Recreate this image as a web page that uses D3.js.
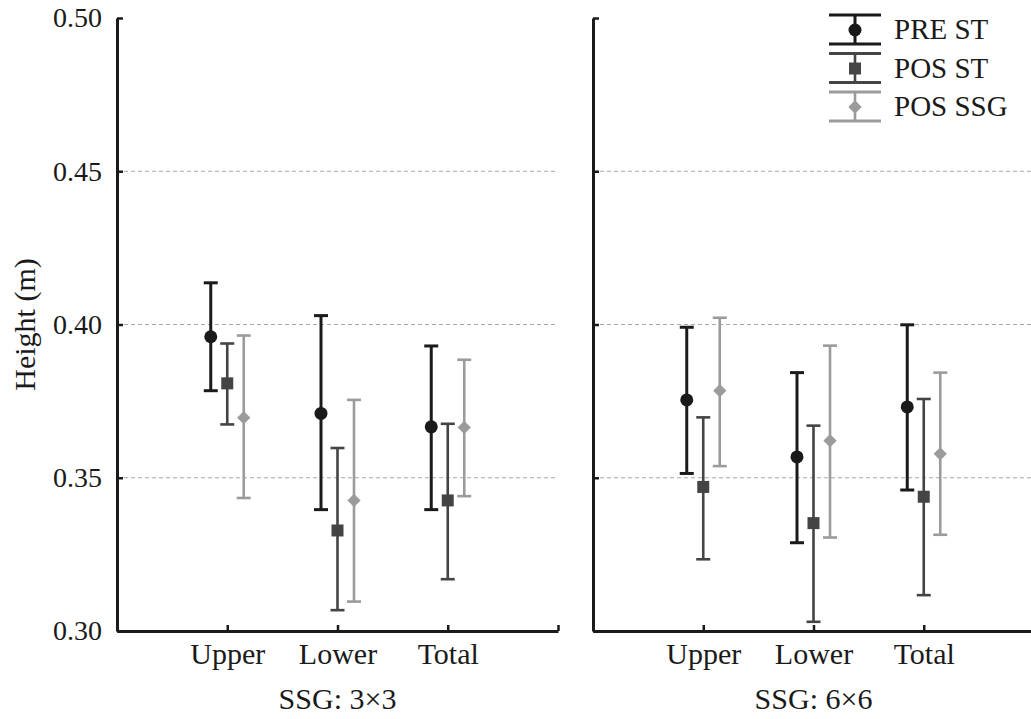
<!DOCTYPE html>
<html>
<head>
<meta charset="utf-8">
<script src="https://cdn.jsdelivr.net/npm/d3@7"></script>
<style>
  body { margin: 0; background: #fff; }
  text { font-family: "Liberation Serif", "Times New Roman", serif; fill: #1a1a1a; }
</style>
</head>
<body>
<div id="chart"></div>
<script>
// data
const panels = ["SSG: 3×3", "SSG: 6×6"];
const categories = ["Upper", "Lower", "Total"];
const series = ["PRE ST", "POS ST", "POS SSG"];
const seriesColors = ["#1a1a1a", "#444444", "#9b9b9b"];
const yTicks = [0.30, 0.35, 0.40, 0.45, 0.50];

// [panel][series][category]
const means = [
    [[0.396, 0.371, 0.3666], [0.3808, 0.3328, 0.3426], [0.3696, 0.3426, 0.3664]],
    [[0.3754, 0.3568, 0.3731], [0.347, 0.3352, 0.3438], [0.3784, 0.3621, 0.3578]]
];
const uppers = [
    [[0.4136, 0.4029, 0.393], [0.3938, 0.3597, 0.3676], [0.3964, 0.3754, 0.3885]],
    [[0.3991, 0.3843, 0.3999], [0.3697, 0.367, 0.3757], [0.4022, 0.3931, 0.3843]]
];
const lowers = [
    [[0.3784, 0.3396, 0.3396], [0.3674, 0.3068, 0.3169], [0.3434, 0.3096, 0.344]],
    [[0.3514, 0.3288, 0.346], [0.3234, 0.303, 0.3117], [0.3538, 0.3305, 0.3314]]
];

async function drawChart() {

    const dimensions = {
        width: 1031,
        height: 719,
        panelWidth: 441,
        panelGap: 35,
        margin: { top: 18, left: 117, bottom: 88 }
    };
    dimensions.boundedHeight = dimensions.height - dimensions.margin.top - dimensions.margin.bottom;

    const chart = d3.select("#chart")
        .append("svg")
        .attr("width", dimensions.width)
        .attr("height", dimensions.height);

    // scales
    const yScale = d3.scaleLinear()
        .domain([0.30, 0.50])
        .range([dimensions.boundedHeight, 0]);

    const xScale = d3.scaleLinear()
        .domain([0, categories.length + 1])
        .range([0, dimensions.panelWidth]);

    const offsetScale = d3.scalePoint()
        .domain(series)
        .range([-16.5, 16.5]);

    const colorScale = d3.scaleOrdinal()
        .domain(series)
        .range(seriesColors);

    // diamond = square turned 45 degrees
    const symbols = [d3.symbolCircle, d3.symbolSquare, d3.symbolSquare];
    const symbolSizes = [133, 144, 88];
    const symbolRotate = [0, 0, 45];
    const lineWidths = [3, 2.6, 2.6];
    const capHalf = 7;

    panels.forEach((panelName, p) => {
        const left = dimensions.margin.left + p * (dimensions.panelWidth + dimensions.panelGap);
        const bounds = chart.append("g")
            .attr("transform", `translate(${left}, ${dimensions.margin.top})`);

        // grid
        bounds.append("g")
            .selectAll("line")
            .data(yTicks.filter(t => t > 0.30 && t < 0.50))
            .join("line")
            .attr("x1", 0)
            .attr("x2", dimensions.panelWidth)
            .attr("y1", d => yScale(d))
            .attr("y2", d => yScale(d))
            .attr("stroke", "#a8a8a8")
            .attr("stroke-width", 1)
            .attr("stroke-dasharray", "4,3");

        // axes
        const yAxis = d3.axisLeft(yScale)
            .tickValues(yTicks)
            .tickSizeInner(-6)
            .tickSizeOuter(0)
            .tickPadding(15)
            .tickFormat(p === 0 ? d3.format(".2f") : "");

        const yAxisGroup = bounds.append("g").call(yAxis);

        const xAxis = d3.axisBottom(xScale)
            .tickValues(d3.range(1, categories.length + 2))
            .tickSizeInner(-6)
            .tickSizeOuter(0)
            .tickPadding(12)
            .tickFormat(d => categories[d - 1] || "");

        const xAxisGroup = bounds.append("g")
            .attr("transform", `translate(0, ${dimensions.boundedHeight})`)
            .call(xAxis);

        [yAxisGroup, xAxisGroup].forEach(g => {
            g.select(".domain").attr("stroke", "#1a1a1a").attr("stroke-width", 3);
            g.selectAll(".tick line").attr("stroke", "#1a1a1a").attr("stroke-width", 2.5);
            g.selectAll(".tick text")
                .attr("font-family", "Liberation Serif")
                .attr("fill", "#1a1a1a");
        });
        yAxisGroup.selectAll(".tick text").attr("font-size", 28);
        xAxisGroup.selectAll(".tick text").attr("font-size", 30).attr("dy", "0.71em");

        // panel title
        bounds.append("text")
            .attr("x", xScale(2))
            .attr("y", dimensions.boundedHeight + 78)
            .attr("text-anchor", "middle")
            .style("font-size", "30px")
            .text(panelName);

        // error bars
        series.forEach((s, si) => {
            const g = bounds.append("g");
            const color = colorScale(s);
            const rows = categories.map((c, ci) => ({
                cx: xScale(ci + 1) + offsetScale(s),
                mean: means[p][si][ci],
                hi: uppers[p][si][ci],
                lo: lowers[p][si][ci]
            }));

            g.selectAll("line.bar")
                .data(rows)
                .join("line")
                .attr("class", "bar")
                .attr("x1", d => d.cx).attr("x2", d => d.cx)
                .attr("y1", d => yScale(d.hi)).attr("y2", d => yScale(d.lo))
                .attr("stroke", color)
                .attr("stroke-width", lineWidths[si]);

            g.selectAll("line.cap-hi")
                .data(rows)
                .join("line")
                .attr("class", "cap-hi")
                .attr("x1", d => d.cx - capHalf).attr("x2", d => d.cx + capHalf)
                .attr("y1", d => yScale(d.hi)).attr("y2", d => yScale(d.hi))
                .attr("stroke", color)
                .attr("stroke-width", lineWidths[si]);

            g.selectAll("line.cap-lo")
                .data(rows)
                .join("line")
                .attr("class", "cap-lo")
                .attr("x1", d => d.cx - capHalf).attr("x2", d => d.cx + capHalf)
                .attr("y1", d => yScale(d.lo)).attr("y2", d => yScale(d.lo))
                .attr("stroke", color)
                .attr("stroke-width", lineWidths[si]);

            g.selectAll("path.marker")
                .data(rows)
                .join("path")
                .attr("class", "marker")
                .attr("d", d3.symbol().type(symbols[si]).size(symbolSizes[si]))
                .attr("transform", d => `translate(${d.cx}, ${yScale(d.mean)}) rotate(${symbolRotate[si]})`)
                .attr("fill", color);
        });
    });

    // y label
    chart.append("text")
        .attr("transform", `translate(35, ${dimensions.margin.top + yScale(0.40)}) rotate(-90)`)
        .attr("text-anchor", "middle")
        .style("font-size", "30px")
        .text("Height (m)");

    // legend
    const legend = chart.append("g")
        .attr("transform", "translate(855, 15)");

    const legendRows = legend.selectAll("g")
        .data(series)
        .join("g")
        .attr("transform", (d, i) => `translate(0, ${i * 38.5})`);

    legendRows.each(function(s, si) {
        const row = d3.select(this);
        const color = colorScale(s);
        row.append("line")
            .attr("x1", 0).attr("x2", 0)
            .attr("y1", 0).attr("y2", 29)
            .attr("stroke", color).attr("stroke-width", lineWidths[si]);
        [0, 29].forEach(y => {
            row.append("line")
                .attr("x1", -26).attr("x2", 26)
                .attr("y1", y).attr("y2", y)
                .attr("stroke", color).attr("stroke-width", 3);
        });
        row.append("path")
            .attr("d", d3.symbol().type(symbols[si]).size(symbolSizes[si]))
            .attr("transform", `translate(0, 15) rotate(${symbolRotate[si]})`)
            .attr("fill", color);
        row.append("text")
            .attr("x", 39)
            .attr("y", 24)
            .style("font-size", "29px")
            .text(s);
    });
}

drawChart();
</script>
</body>
</html>
